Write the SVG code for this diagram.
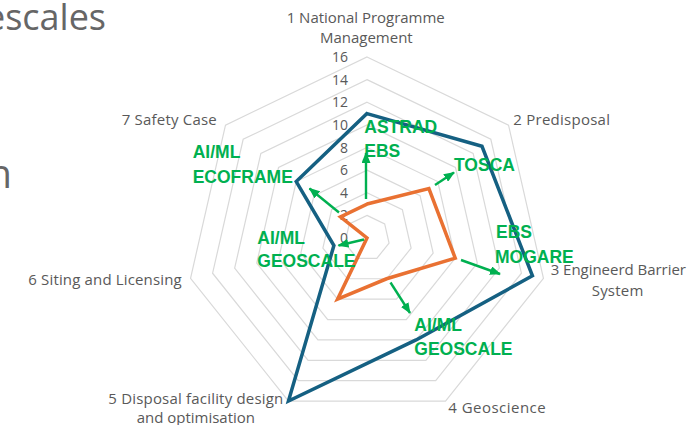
<svg xmlns="http://www.w3.org/2000/svg" width="700" height="425" viewBox="0 0 700 425">
<defs>
<style>
.ring{fill:none;stroke:#d9d9d9;stroke-width:1.2}
.cat{font-family:"Open Sans","Liberation Sans",sans-serif;font-size:15px;fill:#595959}
.tick{font-family:"Open Sans","Liberation Sans",sans-serif;font-size:14px;fill:#595959;text-anchor:end}
.ann{font-family:"Liberation Sans",Arial,sans-serif;font-size:17.5px;font-weight:bold;fill:#00B050}
.arrow{stroke:#00B050;stroke-width:2.4;fill:none;marker-end:url(#ah)}
.title{font-family:"Open Sans","Liberation Sans",sans-serif;fill:#666666;text-anchor:end}
</style>
<marker id="ah" markerUnits="userSpaceOnUse" markerWidth="11" markerHeight="9" refX="10" refY="4.5" orient="auto">
<path d="M0,0 L11,4.5 L0,9 z" fill="#00B050"/>
</marker>
</defs>
<rect width="700" height="425" fill="#ffffff"/>
<g id="title">
<text class="title" x="106" y="30" font-size="36">escales</text>
<text class="title" x="12" y="188" font-size="40">n</text>
</g>
<g id="grid">
<polygon class="ring" points="367,215.38 384.69,223.89 389.06,243.03 376.82,258.38 357.18,258.38 344.94,243.03 349.31,223.89"/>
<polygon class="ring" points="367,192.75 402.38,209.79 411.12,248.07 386.63,278.77 347.37,278.77 322.88,248.07 331.62,209.79"/>
<polygon class="ring" points="367,170.13 420.07,195.68 433.17,253.10 396.45,299.15 337.55,299.15 300.83,253.10 313.93,195.68"/>
<polygon class="ring" points="367,147.5 437.76,181.57 455.23,258.14 406.27,319.54 327.73,319.54 278.77,258.14 296.24,181.57"/>
<polygon class="ring" points="367,124.88 455.45,167.47 477.29,263.17 416.08,339.92 317.92,339.92 256.71,263.17 278.55,167.47"/>
<polygon class="ring" points="367,102.25 473.13,153.36 499.35,268.21 425.90,360.31 308.10,360.31 234.65,268.21 260.87,153.36"/>
<polygon class="ring" points="367,79.63 490.82,139.26 521.41,273.24 435.72,380.69 298.28,380.69 212.59,273.24 243.18,139.26"/>
<polygon class="ring" points="367,57 508.51,125.15 543.46,278.28 445.53,401.08 288.47,401.08 190.54,278.28 225.49,125.15"/>
</g>
<g id="ticks">
<text class="tick" x="348" y="62">16</text>
<text class="tick" x="348" y="84.6">14</text>
<text class="tick" x="348" y="107.3">12</text>
<text class="tick" x="348" y="129.9">10</text>
<text class="tick" x="348" y="152.5">8</text>
<text class="tick" x="348" y="175.1">6</text>
<text class="tick" x="348" y="197.8">4</text>
<text class="tick" x="348" y="220.4">2</text>
<text class="tick" x="348" y="243">0</text>
</g>
<g id="series">
<polygon id="series-blue" points="367,113.56 481.98,146.31 532.43,275.76 416.08,339.92 288.47,401.08 333.91,245.55 296.24,181.57" fill="none" stroke="#156082" stroke-width="3.5"/>
<polygon id="series-orange" points="367,204.06 428.91,188.63 455.23,258.14 386.63,278.77 337.55,299.15 367,238 340.47,216.84" fill="none" stroke="#E97132" stroke-width="3.5"/>
</g>
<g id="categories">
<text class="cat" x="286.7" y="22.5" textLength="158">1 National Programme</text>
<text class="cat" x="320" y="43" textLength="92.7">Management</text>
<text class="cat" x="513.3" y="125" textLength="96.7">2 Predisposal</text>
<text class="cat" x="550.7" y="275" textLength="135.3">3 Engineerd Barrier</text>
<text class="cat" x="591.7" y="295.5" textLength="51.6">System</text>
<text class="cat" x="448.3" y="413.3" textLength="97.4">4 Geoscience</text>
<text class="cat" x="108.3" y="403.5" textLength="175">5 Disposal facility design</text>
<text class="cat" x="136.7" y="423" textLength="118.3">and optimisation</text>
<text class="cat" x="28.3" y="285" textLength="153.4">6 Siting and Licensing</text>
<text class="cat" x="121.7" y="125" textLength="95">7 Safety Case</text>
</g>
<g id="label-astrad">
<text class="ann" x="364.3" y="133.3">ASTRAD</text>
<text class="ann" x="364.3" y="157.3">EBS</text>
</g>
<g id="label-tosca">
<text class="ann" x="454" y="170.7">TOSCA</text>
</g>
<g id="label-mogare">
<text class="ann" x="496" y="238.3">EBS</text>
<text class="ann" x="495" y="263.3">MOGARE</text>
</g>
<g id="label-ecoframe">
<text class="ann" x="192.7" y="158.3">AI/ML</text>
<text class="ann" x="192.7" y="182.7">ECOFRAME</text>
</g>
<g id="label-geoscale-left">
<text class="ann" x="257.3" y="244">AI/ML</text>
<text class="ann" x="257.3" y="266.7">GEOSCALE</text>
</g>
<g id="label-geoscale-bottom">
<text class="ann" x="414.3" y="330.7">AI/ML</text>
<text class="ann" x="414.3" y="355">GEOSCALE</text>
</g>
<g id="connectors">
<line class="arrow" x1="366" y1="199" x2="366" y2="153"/>
<line class="arrow" x1="435" y1="185" x2="454" y2="172.5"/>
<line class="arrow" x1="461" y1="260" x2="500" y2="274"/>
<line class="arrow" x1="390.5" y1="282.5" x2="410" y2="313"/>
<line class="arrow" x1="364" y1="239.5" x2="338.5" y2="245.5"/>
<line class="arrow" x1="339" y1="212.5" x2="309.5" y2="188.5"/>
</g>
</svg>
